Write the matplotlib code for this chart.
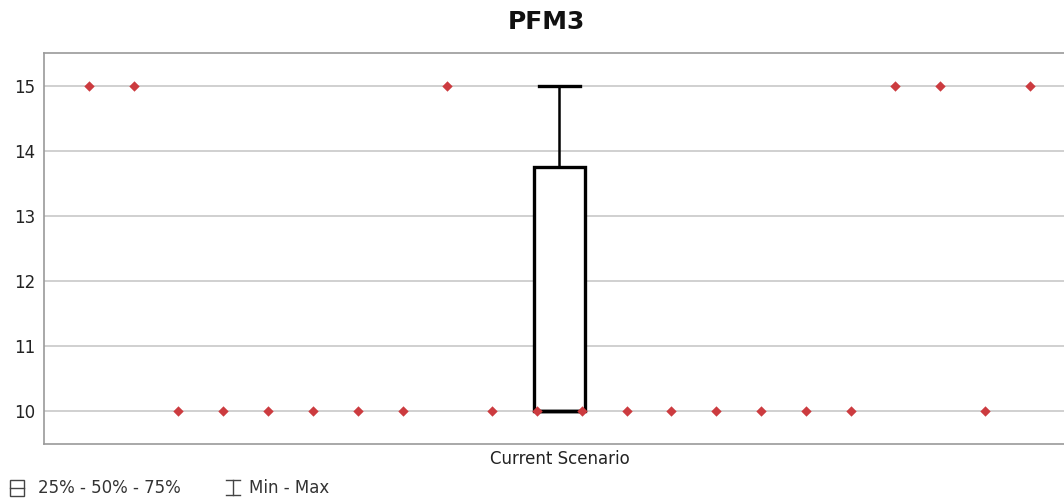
import numpy as np
import matplotlib
matplotlib.use("Agg")
import matplotlib.pyplot as plt
from matplotlib.patches import Rectangle
from matplotlib.lines import Line2D

title = "PFM3"
category = "Current Scenario"
# one value per run, left to right as drawn
run_values = [15, 15, 10, 10, 10, 10, 10, 10, 15, 10, 10,
              10, 10, 10, 10, 10, 10, 10, 15, 15, 10, 15]
y_ticks = [10, 11, 12, 13, 14, 15]
legend_labels = ["25% - 50% - 75%", "Min - Max"]

values = np.array(run_values, dtype=float)
xs = np.arange(1, len(values) + 1)
center = (xs[0] + xs[-1]) / 2

fig = plt.figure(figsize=(10.64, 5.0), dpi=100)
ax = fig.add_axes([44 / 1064, 1 - 444 / 500, 1 - 44 / 1064, (444 - 53) / 500])

ax.set_xlim(0, 22.76)
ax.set_ylim(9.5, 15.5)
ax.set_yticks(y_ticks)
ax.set_xticks([center])
ax.set_xticklabels([category], fontsize=13)
ax.tick_params(length=0, labelsize=12, colors="#222222", pad=4)
ax.tick_params(axis="y", pad=6)
ax.grid(axis="y", color="#c8c8c8", linewidth=1.2)
ax.set_axisbelow(True)
for side in ["left", "bottom", "top"]:
    ax.spines[side].set_color("#9a9a9a")
    ax.spines[side].set_linewidth(1.2)
ax.spines["right"].set_visible(False)

ax.boxplot(
    values,
    positions=[center],
    widths=1.14,
    whis=(0, 100),
    showfliers=False,
    patch_artist=True,
    boxprops=dict(facecolor="white", edgecolor="black", linewidth=2.4),
    medianprops=dict(color="black", linewidth=2.4),
    whiskerprops=dict(color="black", linewidth=1.8),
    capprops=dict(color="black", linewidth=2.4),
    capwidths=0.9,
    manage_ticks=False,
    zorder=3,
)

ax.scatter(xs, values, marker="D", s=28, color="#cc3b3f", linewidths=0, zorder=4)

fig.text(546 / 1064, 1 - 22 / 500, title, ha="center", va="center",
         fontsize=18, fontweight="bold", color="#111111")

# legend row at the bottom
fig.add_artist(Rectangle((10 / 1064, 1 - 496 / 500), 14 / 1064, 16 / 500,
                         transform=fig.transFigure, fill=False,
                         edgecolor="#444444", linewidth=1.0))
fig.add_artist(Line2D([10 / 1064, 24 / 1064], [1 - 488 / 500] * 2,
                      transform=fig.transFigure, color="#444444", linewidth=1.0))
fig.text(38 / 1064, 1 - 488 / 500, legend_labels[0], ha="left", va="center",
         fontsize=12, color="#333333")
xi = 233 / 1064
fig.add_artist(Line2D([xi, xi], [1 - 495 / 500, 1 - 480 / 500],
                      transform=fig.transFigure, color="#444444", linewidth=1.0))
for yy in [480, 495]:
    fig.add_artist(Line2D([226 / 1064, 240 / 1064], [1 - yy / 500] * 2,
                          transform=fig.transFigure, color="#444444", linewidth=1.0))
fig.text(249 / 1064, 1 - 488 / 500, legend_labels[1], ha="left", va="center",
         fontsize=12, color="#333333")

fig.savefig("out.png", dpi=100)
